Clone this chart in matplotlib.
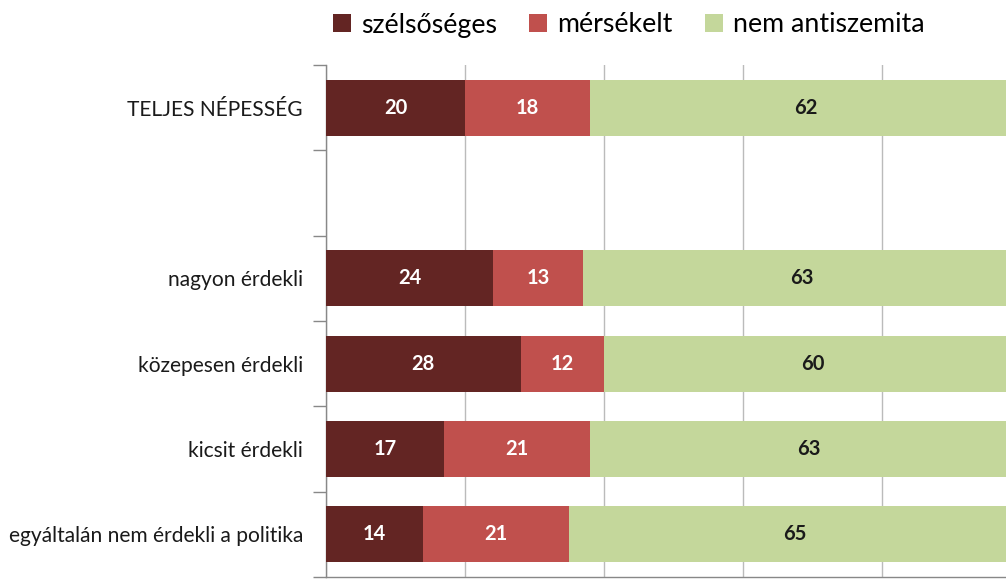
import matplotlib
matplotlib.use("Agg")
import matplotlib.pyplot as plt
from matplotlib.patches import Patch

categories = ["TELJES NÉPESSÉG", "", "nagyon érdekli", "közepesen érdekli",
              "kicsit érdekli", "egyáltalán nem érdekli a politika"]
series_names = ["szélsőséges", "mérsékelt", "nem antiszemita"]
szelsoseges = [20, None, 24, 28, 17, 14]
merseklet = [18, None, 13, 12, 21, 21]
nem_anti = [62, None, 63, 60, 63, 65]
colors = ["#632523", "#C0504D", "#C4D79B"]
text_colors = ["white", "white", "#1a1a1a"]

plt.rcParams['font.family'] = ['Lato', 'DejaVu Sans']

fig = plt.figure(figsize=(10.06, 5.79), dpi=100)
ax = fig.add_axes([326/1006, 2/579, (1021-326)/1006, (577-65)/579])

n = len(categories)
ys = list(range(n))
left = [0]*n
for vals, col, tc in zip([szelsoseges, merseklet, nem_anti], colors, text_colors):
    for i, v in enumerate(vals):
        if v is None:
            continue
        ax.barh(i, v, left=left[i], height=0.66, color=col, zorder=3)
        ax.text(left[i] + v/2, i, str(v), ha='center', va='center',
                color=tc, fontsize=14.5, fontweight='bold', zorder=4)
        left[i] += v

ax.set_xlim(0, 100)
ax.set_ylim(n - 0.5, -0.5)
ax.set_yticks([i - 0.5 for i in range(n + 1)])
ax.set_yticklabels([])
ax.set_yticks(ys, minor=True)
ax.set_yticklabels(categories, minor=True, fontsize=15.1, color='#1a1a1a')
ax.tick_params(axis='y', which='minor', length=0, pad=16.5)
ax.tick_params(axis='y', which='major', length=9.5, color='#888888', width=1)
ax.set_xticks([0, 20, 40, 60, 80, 100])
ax.set_xticklabels([])
ax.tick_params(axis='x', length=0)
ax.grid(axis='x', color='#BBBBBB', linewidth=1, zorder=0)
for s in ['top', 'right']:
    ax.spines[s].set_visible(False)
for s in ['left', 'bottom']:
    ax.spines[s].set_color('#888888')
    ax.spines[s].set_linewidth(1)

handles = [Patch(facecolor=c, label=l) for c, l in zip(colors, series_names)]
fig.legend(handles=handles, loc='center', bbox_to_anchor=(629/1006, 1 - 25/579),
           ncol=3, frameon=False, fontsize=19.3, handlelength=0.65, handleheight=0.65,
           handletextpad=0.4, columnspacing=1.2)

fig.savefig("out.png", dpi=100)
